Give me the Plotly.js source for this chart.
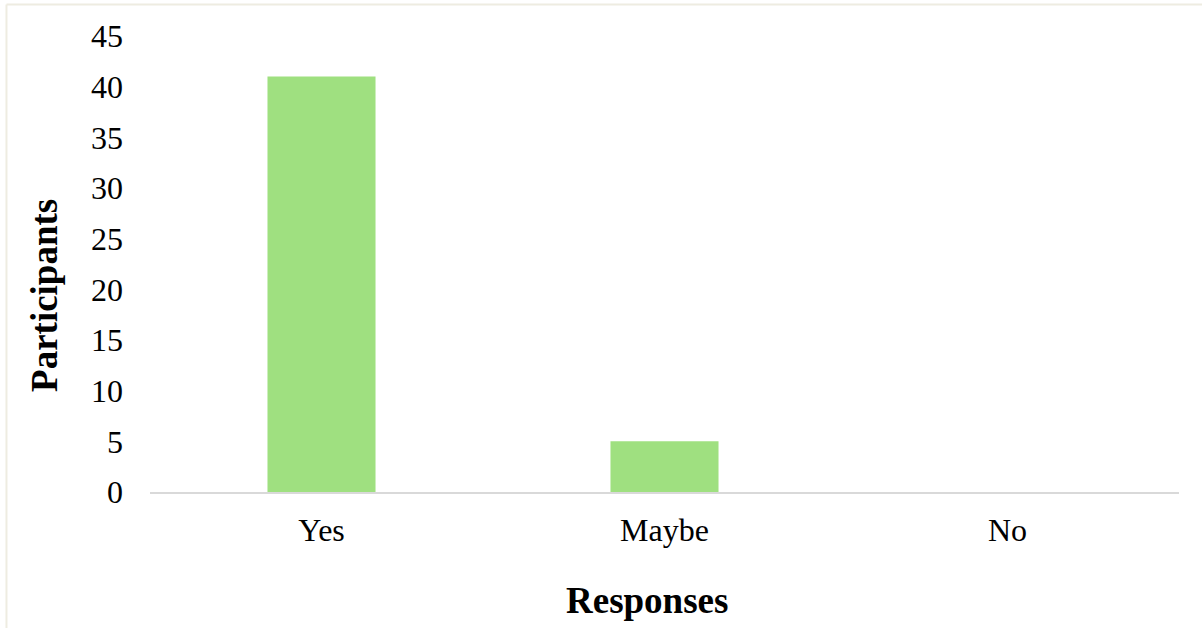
<!DOCTYPE html>
<html>
<head>
<meta charset="utf-8">
<script src="https://cdn.plot.ly/plotly-3.0.1.min.js"></script>
<style>
html,body{margin:0;padding:0;background:#fff;}
#chart{width:1202px;height:628px;}
</style>
</head>
<body>
<div id="chart"></div>
<script>
const categories = ["Yes", "Maybe", "No"];
const participants = [41, 5, 0];
const yTicks = [0, 5, 10, 15, 20, 25, 30, 35, 40, 45];
const xTitle = "Responses";
const yTitle = "Participants";

const fontFam = "Liberation Serif, Times New Roman, serif";

const trace = {
  type: "bar",
  x: categories,
  y: participants,
  marker: {color: "#9FE080"},
  hoverinfo: "x+y"
};

const layout = {
  width: 1202,
  height: 628,
  margin: {l: 150, r: 23, t: 36, b: 136},
  paper_bgcolor: "#ffffff",
  plot_bgcolor: "#ffffff",
  bargap: 0.685,
  showlegend: false,
  font: {family: fontFam, color: "#000000"},
  xaxis: {
    type: "category",
    showline: true,
    linecolor: "#D9D9D9",
    linewidth: 1.5,
    showgrid: false,
    zeroline: false,
    ticks: "",
    tickfont: {family: fontFam, size: 32, color: "#000"},
    ticklabelstandoff: 9
  },
  yaxis: {
    range: [0, 45],
    tickvals: yTicks,
    showline: false,
    showgrid: false,
    zeroline: false,
    ticks: "",
    tickfont: {family: fontFam, size: 32, color: "#000"},
    ticklabelstandoff: 26
  },
  annotations: [
    {text: "<b>" + yTitle + "</b>", xref: "paper", yref: "paper",
     x: -0.102, y: 0.43, xanchor: "center", yanchor: "middle",
     textangle: -90, showarrow: false,
     font: {family: fontFam, size: 37, color: "#000"}},
    {text: "<b>" + xTitle + "</b>", xref: "paper", yref: "paper",
     x: 0.483, y: -0.237, xanchor: "center", yanchor: "middle",
     showarrow: false,
     font: {family: fontFam, size: 37, color: "#000"}}
  ],
  shapes: [
    {type: "line", xref: "paper", yref: "paper", x0: -0.1395, x1: 1.03, y0: 1.069, y1: 1.069,
     line: {color: "#EEECE1", width: 2}},
    {type: "line", xref: "paper", yref: "paper", x0: -0.1395, x1: -0.1395, y0: 1.069, y1: -0.31,
     line: {color: "#EEECE1", width: 2}}
  ]
};

Plotly.newPlot("chart", [trace], layout, {displayModeBar: false, staticPlot: true});
</script>
</body>
</html>
